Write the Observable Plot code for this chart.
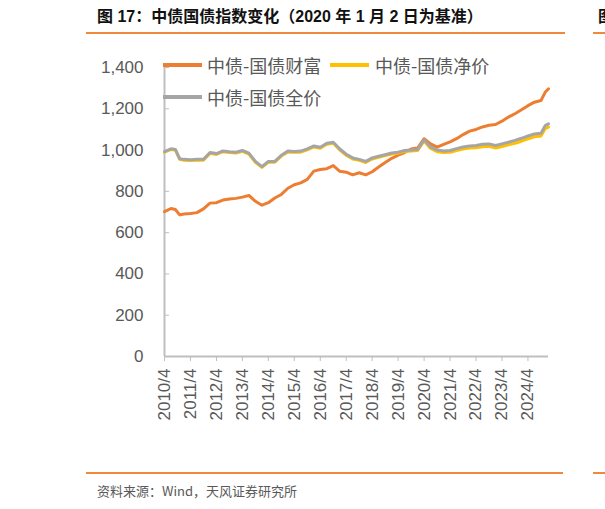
<!DOCTYPE html>
<html><head><meta charset="utf-8">
<script src="https://cdn.jsdelivr.net/npm/d3@7"></script>
<script src="https://cdn.jsdelivr.net/npm/@observablehq/plot@0.6"></script>
<style>
html,body{margin:0;padding:0;background:#fff}
body{width:605px;height:509px;overflow:hidden;position:relative;font-family:"Liberation Sans","Noto Sans CJK SC",sans-serif}
#chart{position:absolute;left:0;top:0}
.abs{position:absolute;white-space:nowrap}
.title{font-family:"Liberation Sans","Noto Sans CJK SC",sans-serif;font-weight:bold;font-size:16px;line-height:18px;color:#111}
.rule{position:absolute;height:2px;background:#F0893A}
.leg{font-family:"Noto Sans CJK SC",sans-serif;font-size:18px;line-height:20px;color:#595959}
.sw{position:absolute;height:4px}
.cap{font-family:"Noto Sans CJK SC","Liberation Sans",sans-serif;font-size:13px;line-height:16px;color:#595959}
</style></head><body>
<div id="chart"></div>
<div class="abs title" style="left:97px;top:8px">图 17：中债国债指数变化（2020 年 1 月 2 日为基准）</div>
<div class="rule" style="left:86px;top:32px;width:479px"></div>
<div class="abs title" style="left:598px;top:8px">图</div>
<div class="rule" style="left:593px;top:32px;width:12px"></div>
<div class="rule" style="left:86px;top:472px;width:477px"></div>
<div class="rule" style="left:593px;top:472px;width:12px"></div>
<div class="abs cap" style="left:97px;top:483px">资料来源：Wind，天风证券研究所</div>
<div id="legend"></div>
<script>
const dates = ["2010-04-01","2010-07-01","2010-09-01","2010-11-01",
"2011-01-01","2011-04-01","2011-07-01","2011-10-01",
"2012-01-01","2012-04-01","2012-07-01","2012-10-01",
"2013-01-01","2013-04-01","2013-07-01","2013-10-01",
"2014-01-01","2014-04-01","2014-07-01","2014-10-01",
"2015-01-01","2015-04-01","2015-07-01","2015-10-01",
"2016-01-01","2016-04-01","2016-07-01","2016-10-01",
"2017-01-01","2017-04-01","2017-07-01","2017-10-01",
"2018-01-01","2018-04-01","2018-07-01","2018-10-01",
"2019-01-01","2019-04-01","2019-07-01","2019-10-01",
"2020-01-01","2020-04-01","2020-07-01","2020-10-01",
"2021-01-01","2021-04-01","2021-07-01","2021-10-01",
"2022-01-01","2022-04-01","2022-07-01","2022-10-01",
"2023-01-01","2023-04-01","2023-07-01","2023-10-01",
"2024-01-01","2024-04-01","2024-07-01","2024-10-01","2024-12-01",
"2025-01-15"];
const wealth = [702,717,712,686, 690,693,697,715, 743,745,758,763, 766,772,780,752,
733,745,768,785, 815,832,841,858, 898,906,910,925, 897,893,880,890,
880,895,918,940, 960,975,988,1005, 1010,1055,1030,1014, 1028,1040,1055,1075,
1092,1100,1112,1120, 1124,1140,1160,1176, 1195,1215,1232,1240,1281, 1297];
const fullPrice = [993,1006,1003,958, 955,953,955,955, 988,983,996,992, 990,998,985,945,
920,945,945,975, 995,993,995,1006, 1020,1014,1033,1038, 1005,980,962,955,
945,962,970,978, 986,990,998,1000, 1003,1050,1015,1000, 996,998,1007,1015,
1020,1022,1028,1030, 1022,1030,1038,1047, 1057,1068,1078,1082,1119, 1127];
const netPrice = [990,1003,1000,955, 951,949,951,951, 984,979,992,988, 986,994,981,941,
916,941,941,971, 991,989,990,1001, 1015,1009,1028,1033, 1000,975,957,950,
940,957,965,973, 981,985,993,995, 998,1044,1008,992, 988,989,998,1005,
1010,1011,1016,1018, 1010,1017,1025,1033, 1043,1054,1064,1068,1104, 1111];
const seriesNames = ["中债-国债财富","中债-国债净价","中债-国债全价"];
const seriesColors = ["#ED7D31","#FFC000","#A5A5A5"];
const yTicks = [0,200,400,600,800,1000,1200,1400];
const xTickLabels = ["2010/4","2011/4","2012/4","2013/4","2014/4","2015/4","2016/4","2017/4","2018/4","2019/4","2020/4","2021/4","2022/4","2023/4","2024/4"];

const parse = s => new Date(s + "T00:00:00Z");
const xTicks = xTickLabels.map(s => { const [y,m] = s.split("/"); return new Date(Date.UTC(+y, +m - 1, 1)); });
const seriesValues = [wealth, netPrice, fullPrice];
const tables = seriesValues.map((arr, k) => arr.map((v, i) => ({date: parse(dates[i]), value: v, series: seriesNames[k]})));
const xDomain = [parse(dates[0]), parse(dates[dates.length - 1])];

const chart = Plot.plot({
  width: 605, height: 509,
  marginLeft: 164, marginRight: 57, marginTop: 67, marginBottom: 153,
  style: {fontFamily: '"Liberation Sans", Arial, sans-serif', fontSize: "17px", color: "#595959", background: "#fff"},
  x: {type: "utc", domain: xDomain},
  y: {domain: [0, 1400]},
  color: {domain: seriesNames, range: seriesColors},
  marks: [
    Plot.ruleX([xDomain[0]], {y1: 0, y2: 1400, stroke: "#BFBFBF", strokeWidth: 2}),
    Plot.ruleY([0], {stroke: "#BFBFBF", strokeWidth: 2}),
    Plot.axisY({ticks: yTicks, tickSize: -5, tickPadding: 26, stroke: "#BFBFBF", tickFormat: d3.format(","), label: null, fill: "#595959", fontSize: 17}),
    Plot.axisX({ticks: xTicks, tickSize: 5, tickPadding: 7, tickRotate: -90, stroke: "#BFBFBF", tickFormat: (d, i) => xTickLabels[i], label: null, fill: "#595959", fontSize: 17}),
    ...tables.map(t => Plot.line(t, {x: "date", y: "value", stroke: "series", strokeWidth: 3}))
  ]
});
document.getElementById("chart").appendChild(chart);

// legend overlaid on the plot area
const legendPos = [
  {sx: 163, tx: 207, y: 65},
  {sx: 330, tx: 375, y: 65},
  {sx: 163, tx: 207, y: 97}
];
const legend = document.getElementById("legend");
seriesNames.forEach((name, i) => {
  const p = legendPos[i];
  const sw = document.createElement("div");
  sw.className = "sw";
  sw.style.left = p.sx + "px"; sw.style.top = (p.y - 2) + "px"; sw.style.width = "39px";
  sw.style.background = seriesColors[i];
  legend.appendChild(sw);
  const t = document.createElement("div");
  t.className = "abs leg";
  t.style.left = p.tx + "px"; t.style.top = (p.y - 10) + "px";
  t.textContent = name;
  legend.appendChild(t);
});
</script>
</body></html>
